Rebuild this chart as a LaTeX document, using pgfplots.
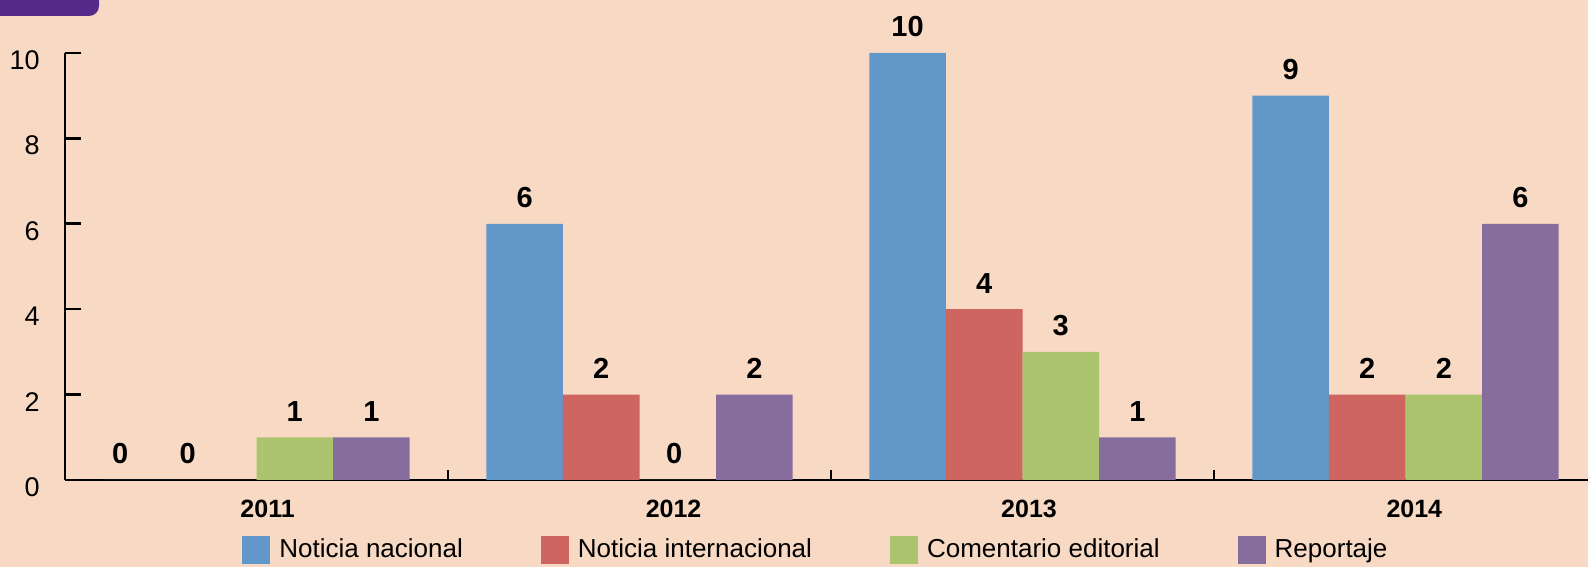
\documentclass[border=0pt]{standalone}
\usepackage{pgfplots}
\usepackage{pgfplotstable}
\pgfplotsset{compat=1.18}
\usepackage{fontspec}
\setmainfont{Liberation Sans}
\definecolor{bg}{HTML}{F7D9C4}
\definecolor{tabp}{HTML}{54298A}
\definecolor{cblue}{HTML}{6197C9}
\definecolor{cred}{HTML}{CF6560}
\definecolor{cgreen}{HTML}{ABC46D}
\definecolor{cpurple}{HTML}{866D9E}

\pgfplotstableread{
x y dx
0 0 -10.75
1 6 0
2 10 0
3 9 0
}\nacional
\pgfplotstableread{
x y dx
0 0 -15.25
1 2 0
2 4 0
3 2 0
}\internacional
\pgfplotstableread{
x y dx
0 1 0
1 0 -1.75
2 3 0
3 2 0
}\editorial
\pgfplotstableread{
x y dx
0 1 0
1 2 0
2 1 0
3 6 0
}\reportaje

\pgfplotsset{
  mybar/.style={ybar, bar width=0.2, bar shift=0pt, draw=none, fill=#1,
    legend image code/.code={\fill[#1] (0pt,-7pt) rectangle (14pt,7pt);},
    nodes near coords,
    visualization depends on={\thisrow{dx}\as\dx},
    nodes near coords style={font=\bfseries\fontsize{14.5pt}{17pt}\selectfont,
      anchor=base, inner sep=0pt, yshift=8pt, xshift=\dx pt, text=black}},
}

\begin{document}
\begin{tikzpicture}
\path[use as bounding box, fill=bg] (0,0) rectangle (794pt,283.5pt);
\fill[tabp, rounded corners=5pt] (-10pt,275.5pt) -- (49.5pt,275.5pt) -- (49.5pt,295pt) -- (-10pt,295pt) -- cycle;
\begin{axis}[
  at={(32.5pt,43.5pt)}, anchor=south west,
  scale only axis, width=761.5pt, height=213.5pt,
  xmin=-0.5, xmax=3.4765, ymin=0, ymax=10,
  axis x line*=bottom, axis y line*=left,
  axis line style={line width=1.3pt, black},
  clip=false,
  xtick={0.029,1.089,2.017,3.023}, xticklabels={2011,2012,2013,2014},
  minor xtick={0.5,1.5,2.5},
  ytick={0,2,4,6,8,10},
  tick align=inside,
  major tick length=8pt, minor tick length=5pt,
  major x tick style={draw=none},
  minor x tick style={line width=1.3pt, black},
  ytick style={line width=1.3pt, black},
  /pgf/number format/assume math mode=true,
  yticklabel style={font=\fontsize{13.5pt}{16pt}\selectfont, inner sep=0pt, anchor=east, xshift=-12.5pt, yshift=-3.5pt},
  xticklabel style={font=\bfseries\fontsize{12.5pt}{15pt}\selectfont, anchor=base, inner sep=0pt, yshift=-19pt},
  legend style={at={(0.1162,-0.164)}, anchor=west, draw=none, fill=none, inner sep=0pt,
    font=\fontsize{13pt}{15pt}\selectfont,
    /tikz/every odd column/.append style={column sep=2.5pt},
    /tikz/every even column/.append style={column sep=37pt}},
  legend columns=4, legend cell align=left,
]
\addplot[mybar=cblue] table[x expr=\thisrow{x}-0.3,y=y] {\nacional};
\addlegendentry{Noticia nacional}
\addplot[mybar=cred] table[x expr=\thisrow{x}-0.1,y=y] {\internacional};
\addlegendentry{Noticia internacional}
\addplot[mybar=cgreen] table[x expr=\thisrow{x}+0.1,y=y] {\editorial};
\addlegendentry{Comentario editorial}
\addplot[mybar=cpurple] table[x expr=\thisrow{x}+0.3,y=y] {\reportaje};
\addlegendentry{Reportaje}
\end{axis}
\end{tikzpicture}
\end{document}
